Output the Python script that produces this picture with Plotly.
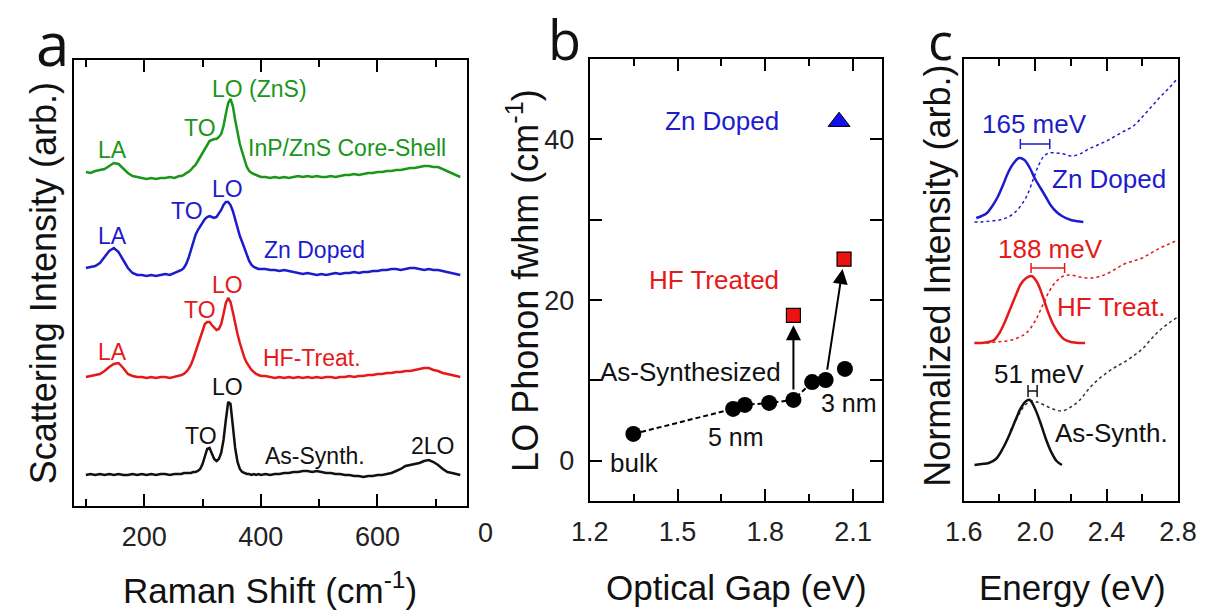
import plotly.graph_objects as go

W, H = 1226, 611

# ---------------- Panel a : Raman spectra (arbitrary offset units) ----------------
raman_shift = [100, 108, 116, 124, 132, 140, 148, 156, 164, 172, 180, 188, 196, 204, 212, 220, 228, 236, 244, 252, 260,
               264, 268, 272, 276, 280, 284, 288, 292, 296, 300, 304, 308, 312, 316, 320, 324, 328, 332, 336, 340,
               344, 348, 352, 356, 360, 364, 368, 372, 376, 380, 384, 388, 392, 396, 400,
               408, 416, 424, 432, 440, 448, 456, 464, 472, 480, 488, 496, 504, 512, 520, 528, 536, 544, 552, 560,
               568, 576, 584, 592, 600, 608, 616, 624, 632, 640, 648, 656, 664, 672, 680, 688, 696, 704, 712, 720,
               728, 736, 742]

core_shell = [334, 333, 335, 336, 337, 340, 343, 342, 337, 333, 330, 329, 328, 327, 328, 327, 328, 328, 329, 328, 330,
              330, 331, 333, 334, 336, 339, 341, 345, 349, 353, 358, 362, 365, 366, 367, 367, 369, 372, 380, 392,
              403, 407, 400, 386, 372, 362, 354, 346, 339, 335, 333, 332, 331, 330, 329,
              329, 328, 329, 328, 329, 328, 329, 330, 329, 330, 329, 330, 329, 329, 330, 329, 330, 331, 331, 332,
              331, 332, 333, 333, 334, 334, 335, 335, 336, 336, 337, 338, 338, 339, 340, 340, 339, 339, 337, 335,
              333, 331, 329]

zn_doped = [238, 239, 240, 243, 249, 255, 258, 254, 246, 238, 233, 231, 231, 230, 231, 230, 231, 232, 231, 233, 235,
            236, 238, 242, 248, 256, 264, 271, 276, 280, 284, 287, 289, 290, 289, 288, 289, 292, 296, 301, 304,
            304, 301, 295, 286, 277, 270, 264, 257, 250, 245, 241, 239, 238, 237, 237,
            237, 236, 236, 235, 236, 235, 234, 233, 232, 233, 232, 231, 232, 231, 232, 233, 232, 233, 233, 234,
            233, 234, 234, 235, 235, 236, 236, 237, 237, 236, 237, 238, 238, 237, 236, 237, 236, 236, 235, 234,
            233, 232, 231]

hf_treat = [129, 130, 131, 132, 135, 139, 142, 143, 138, 132, 130, 129, 129, 128, 129, 128, 129, 129, 128, 129, 130,
            131, 132, 134, 137, 141, 147, 154, 162, 170, 177, 182, 184, 184, 181, 178, 176, 177, 182, 192, 203,
            208, 204, 194, 182, 172, 163, 155, 148, 143, 139, 136, 134, 132, 131, 130,
            130, 129, 128, 129, 128, 129, 128, 129, 128, 129, 128, 129, 128, 129, 129, 128, 129, 129, 130, 129,
            130, 130, 131, 131, 132, 132, 133, 133, 134, 134, 135, 135, 136, 137, 138, 138, 136, 135, 133, 132,
            131, 130, 129]

as_synth = [31, 32, 31, 32, 31, 32, 31, 32, 31, 31, 32, 31, 32, 31, 32, 31, 32, 32, 31, 32, 32,
            32, 33, 33, 33, 33, 34, 34, 35, 37, 42, 50, 57, 58, 53, 47, 45, 47, 53, 66, 86,
            104, 102, 80, 58, 44, 37, 34, 33, 32, 32, 31, 32, 31, 32, 31,
            32, 31, 32, 32, 33, 33, 34, 34, 35, 35, 34, 35, 34, 33, 33, 32, 32, 31, 31, 30,
            30, 29, 30, 30, 31, 31, 32, 33, 35, 37, 40, 41, 42, 43, 45, 46, 44, 41, 37, 34,
            33, 32, 31]

# ---------------- Panel b : LO phonon fwhm vs optical gap ----------------
gap_as = [1.349, 1.690, 1.730, 1.813, 1.896, 1.960, 2.006, 2.072]
fwhm_as = [3.35, 6.46, 6.96, 7.20, 7.58, 9.80, 10.06, 11.43]
gap_hf = [1.896, 2.069]
fwhm_hf = [18.1, 25.1]
gap_zn = [2.052]
fwhm_zn = [42.2]
arrow_from = [4, 6]          # as-synthesized point that each HF point comes from
n_fit = 7                    # dashed guide through the first points

# ---------------- Panel c : PL (solid) and absorption (dotted) ----------------
e_zn_pl = [1.67, 1.70, 1.73, 1.76, 1.79, 1.82, 1.85, 1.88, 1.91, 1.94, 1.97, 2.00, 2.03, 2.06, 2.09, 2.12, 2.15, 2.20, 2.27]
i_zn_pl = [283, 285, 288, 295, 304, 316, 329, 338, 343, 341, 333, 322, 313, 304, 295, 289, 285, 281, 279]
e_zn_abs = [1.66, 1.70, 1.75, 1.80, 1.85, 1.90, 1.95, 1.99, 2.02, 2.05, 2.08, 2.12, 2.16, 2.20, 2.25, 2.30, 2.35,
            2.40, 2.45, 2.50, 2.55, 2.60, 2.65, 2.70, 2.75, 2.80]
i_zn_abs = [279, 279, 280, 281, 284, 291, 304, 322, 336, 345, 348, 348, 347, 345, 347, 352, 356, 360, 365, 370, 375,
            384, 394, 404, 413, 423]

e_hf_pl = [1.66, 1.70, 1.74, 1.77, 1.80, 1.83, 1.86, 1.89, 1.92, 1.95, 1.98, 2.01, 2.04, 2.07, 2.10, 2.13, 2.16,
           2.20, 2.25, 2.28]
i_hf_pl = [158, 158, 159, 161, 168, 179, 192, 205, 217, 223, 225, 219, 206, 190, 177, 168, 162, 159, 158, 158]
e_hf_abs = [1.66, 1.72, 1.78, 1.84, 1.90, 1.95, 2.00, 2.04, 2.08, 2.12, 2.16, 2.20, 2.25, 2.30, 2.35, 2.40, 2.45,
            2.50, 2.55, 2.60, 2.65, 2.70, 2.75, 2.80]
i_hf_abs = [158, 158, 159, 160, 163, 168, 180, 195, 210, 220, 225, 226, 224, 223, 224, 227, 232, 237, 240, 243,
            248, 253, 257, 261]

e_as_pl = [1.66, 1.70, 1.74, 1.78, 1.82, 1.86, 1.89, 1.92, 1.95, 1.97, 2.00, 2.03, 2.06, 2.09, 2.12, 2.15]
i_as_pl = [36, 37, 38, 42, 53, 68, 81, 93, 100, 101, 92, 78, 62, 49, 40, 36]
e_as_abs = [1.86, 1.89, 1.92, 1.95, 1.98, 2.01, 2.05, 2.10, 2.15, 2.20, 2.25, 2.30, 2.35, 2.40, 2.45, 2.50, 2.55,
            2.60, 2.65, 2.70, 2.75, 2.80]
i_as_abs = [70, 80, 90, 97, 100, 99, 96, 92, 90, 94, 101, 112, 121, 128, 134, 139, 145, 152, 162, 171, 178, 184]

pl_peak = [1.917, 1.977, 1.960]
pl_fwhm_mev = [165, 188, 51]

# ---------------- styles ----------------
GREEN = '#1a961a'
BLUE = '#1c1ccc'
RED = '#e61919'
BLACK = '#111111'
FONT = 'Liberation Sans, Arial, sans-serif'

fig = go.Figure()

# panel a traces
for vals, col in [(core_shell, GREEN), (zn_doped, BLUE), (hf_treat, RED), (as_synth, BLACK)]:
    fig.add_trace(go.Scatter(x=raman_shift, y=vals, mode='lines', line=dict(color=col, width=2.5),
                             xaxis='x', yaxis='y', showlegend=False, hoverinfo='skip'))

# panel b traces
fig.add_trace(go.Scatter(x=gap_as[:n_fit], y=fwhm_as[:n_fit], mode='lines',
                         line=dict(color='black', width=2, dash='5px,3px'),
                         xaxis='x2', yaxis='y2', showlegend=False))
fig.add_trace(go.Scatter(x=gap_as, y=fwhm_as, mode='markers',
                         marker=dict(symbol='circle', size=16, color='black'),
                         xaxis='x2', yaxis='y2', showlegend=False))
fig.add_trace(go.Scatter(x=gap_hf, y=fwhm_hf, mode='markers',
                         marker=dict(symbol='square', size=14, color='#ee1111', line=dict(color='black', width=1.2)),
                         xaxis='x2', yaxis='y2', showlegend=False))
fig.add_trace(go.Scatter(x=gap_zn, y=fwhm_zn, mode='markers',
                         marker=dict(symbol='triangle-up', size=19, color='#1010ee', line=dict(color='black', width=1)),
                         xaxis='x2', yaxis='y2', showlegend=False))

# panel c traces
for e, i, col in [(e_zn_abs, i_zn_abs, BLUE), (e_hf_abs, i_hf_abs, RED), (e_as_abs, i_as_abs, '#333333')]:
    fig.add_trace(go.Scatter(x=e, y=i, mode='lines', line=dict(color=col, width=1.5, dash='dot', shape='spline'),
                             xaxis='x3', yaxis='y3', showlegend=False))
for e, i, col in [(e_zn_pl, i_zn_pl, BLUE), (e_hf_pl, i_hf_pl, RED), (e_as_pl, i_as_pl, BLACK)]:
    fig.add_trace(go.Scatter(x=e, y=i, mode='lines', line=dict(color=col, width=2.5, shape='spline'),
                             xaxis='x3', yaxis='y3', showlegend=False))

# FWHM bars (start at PL peak, length = fwhm)
bar_y = [357, 233, 110]
bar_cap = [5, 5, 6]
for pk, mev, yb, cap, col in zip(pl_peak, pl_fwhm_mev, bar_y, bar_cap, [BLUE, RED, BLACK]):
    half = mev / 1000 / 2
    fig.add_trace(go.Scatter(x=[pk + half], y=[yb], mode='markers', marker=dict(size=1, color=col, opacity=0),
                             error_x=dict(type='data', array=[half], color=col, thickness=1.5, width=cap),
                             xaxis='x3', yaxis='y3', showlegend=False))


def pxx(v):
    return v / W


def pxy(v):
    return 1 - v / H


ann = []


def txt(t, x, y, color=BLACK, size=23, angle=0, family=FONT, xanchor='center', yanchor='middle'):
    ann.append(dict(text=t, x=pxx(x), y=pxy(y), xref='paper', yref='paper', showarrow=False,
                    font=dict(family=family, size=size, color=color), textangle=angle,
                    xanchor=xanchor, yanchor=yanchor))


# panel letters (anchored at the top edge of the page)
txt('a', 35, 0, size=60, family='Open Sans, sans-serif', yanchor='top')
txt('b', 563, 0, size=54, family='Open Sans, sans-serif', yanchor='top')
txt('c', 951, 2, size=52, family='Open Sans, sans-serif', yanchor='top')

# axis titles
txt('Raman Shift (cm<sup>-1</sup>)', 259, 588, size=35)
txt('Optical Gap (eV)', 740, 587, size=35)
txt('Energy (eV)', 1087, 587, size=35)
txt('Scattering Intensity (arb.)', 25, 283, size=36, angle=-90)
txt('LO Phonon fwhm (cm<sup>-1</sup>)', 520, 280, size=36, angle=-90)
txt('Normalized Intensity (arb.)', 947, 276, size=36, angle=-90)
txt('0', 481, 533, size=27, color='#222222')

# panel a labels
txt('LA', 97, 150, GREEN); txt('TO', 187, 128, GREEN); txt('LO (ZnS)', 248, 89, GREEN)
txt('InP/ZnS Core-Shell', 338, 148, GREEN)
txt('LA', 97, 236, BLUE); txt('TO', 173, 211, BLUE); txt('LO', 215, 189, BLUE); txt('Zn Doped', 305, 250, BLUE)
txt('LA', 97, 352, RED); txt('TO', 187, 310, RED); txt('LO', 215, 285, RED); txt('HF-Treat.', 302, 358, RED)
txt('TO', 188, 436, BLACK); txt('LO', 215, 387, BLACK); txt('As-Synth.', 305, 456, BLACK)
txt('2LO', 427, 446, BLACK)

# panel b labels
txt('Zn Doped', 726, 121, BLUE, 26)
txt('HF Treated', 717, 280, RED, 26)
txt('As-Synthesized', 693, 372, BLACK, 26)
txt('5 nm', 740, 437, BLACK, 25)
txt('3 nm', 857, 403, BLACK, 25)
txt('bulk', 635, 463, BLACK, 26)

# panel c labels
txt('165 meV', 1048, 124, BLUE, 26)
txt('Zn Doped', 1125, 179, BLUE, 26)
txt('188 meV', 1064, 249, RED, 26)
txt('HF Treat.', 1127, 307, RED, 26)
txt('51 meV', 1053, 374, BLACK, 26)
txt('As-Synth.', 1127, 433, BLACK, 26)

# arrows in panel b
for k, idx in enumerate(arrow_from):
    ann.append(dict(x=gap_hf[k], y=fwhm_hf[k], ax=gap_as[idx], ay=fwhm_as[idx],
                    xref='x2', yref='y2', axref='x2', ayref='y2', showarrow=True,
                    arrowhead=2, arrowsize=1.5, arrowwidth=2, arrowcolor='black',
                    standoff=10, startstandoff=9, text=''))

tickfont = dict(family=FONT, size=27, color='#222222')


def xax(domain, rng, dtick, tick0, minor_dtick, fmt, standoff=6):
    return dict(domain=domain, range=rng, showline=True, linewidth=2, linecolor='black', mirror='allticks',
                ticks='inside', ticklen=12, tickwidth=2, tickcolor='black', dtick=dtick, tick0=tick0,
                tickformat=fmt,
                showgrid=False, zeroline=False, tickfont=tickfont, ticklabelstandoff=standoff,
                minor=dict(ticks='inside', ticklen=7, tickwidth=2, tickcolor='black', dtick=minor_dtick,
                           tick0=tick0, showgrid=False))


fig.update_layout(
    width=W, height=H, margin=dict(l=0, r=0, t=0, b=0),
    paper_bgcolor='white', plot_bgcolor='white', showlegend=False,
    xaxis=xax([57 / W, 462 / W], [80, 753], 200, 0, 100, 'd'),
    yaxis=dict(domain=[1 - 506 / H, 1 - 60 / H], range=[0, 446], showline=True, linewidth=2, linecolor='black',
               mirror=True, ticks='', showticklabels=False, showgrid=False, zeroline=False, anchor='x'),
    xaxis2=xax([589 / W, 891 / W], [1.2, 2.2], 0.3, 1.2, 0.15, '.1f'),
    yaxis2=dict(domain=[1 - 501 / H, 1 - 59 / H], range=[-5, 50], anchor='x2', showline=True, linewidth=2,
                linecolor='black', mirror='allticks', ticks='inside', ticklen=12, tickwidth=2, tickcolor='black',
                dtick=20, tick0=0, showgrid=False, zeroline=False, tickfont=tickfont, ticklabelstandoff=8,
                minor=dict(ticks='inside', ticklen=12, tickwidth=2, tickcolor='black', dtick=10, tick0=0,
                           showgrid=False)),
    xaxis3=xax([975 / W, 1196 / W], [1.6, 2.8], 0.4, 1.6, 0.2, '.1f'),
    yaxis3=dict(domain=[1 - 501 / H, 1 - 59 / H], range=[0, 442], anchor='x3', showline=True, linewidth=2,
                linecolor='black', mirror=True, ticks='', showticklabels=False, showgrid=False, zeroline=False),
    annotations=ann,
)
fig.update_layout(xaxis=dict(anchor='y'), xaxis2=dict(anchor='y2'), xaxis3=dict(anchor='y3'))

fig.write_html('out.html')
